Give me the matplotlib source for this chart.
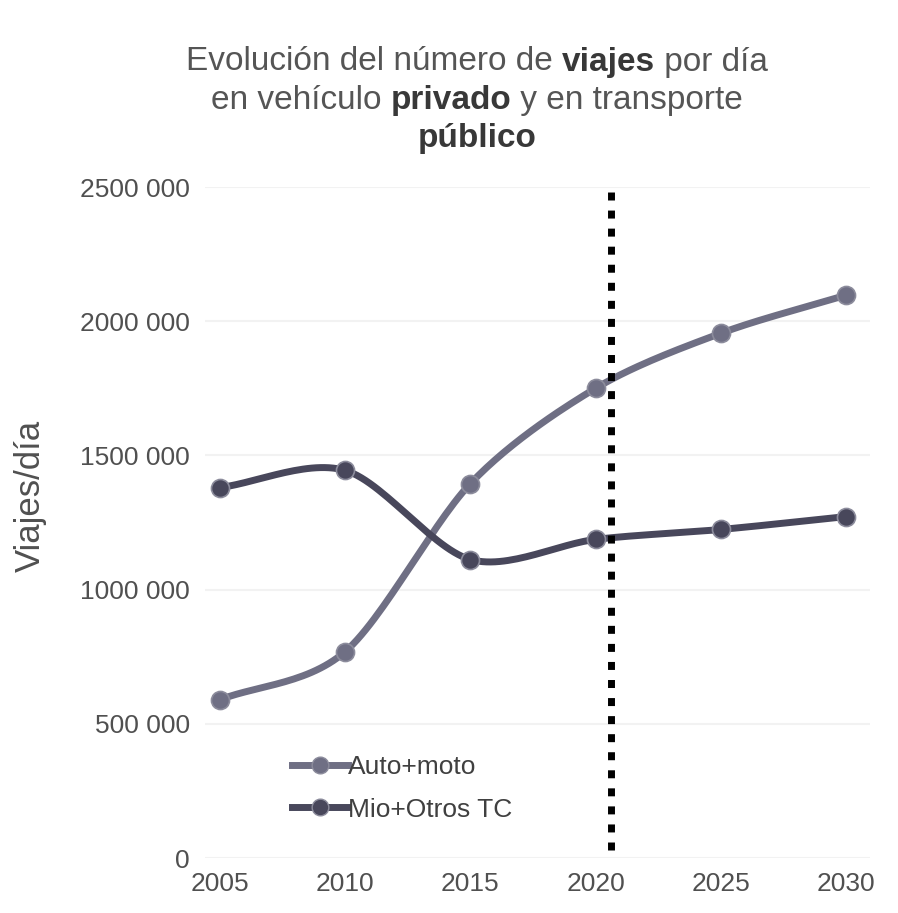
import matplotlib
matplotlib.use("Agg")
import matplotlib.pyplot as plt
import numpy as np

years = [2005, 2010, 2015, 2020, 2025, 2030]
auto_moto = [590000, 769000, 1395000, 1750000, 1955000, 2097000]
mio_otros = [1380000, 1444000, 1112000, 1187000, 1224000, 1272000]
series_names = ["Auto+moto", "Mio+Otros TC"]
y_ticks = [0, 500000, 1000000, 1500000, 2000000, 2500000]
y_tick_labels = ["0", "500 000", "1000 000", "1500 000", "2000 000", "2500 000"]
cut_year = 2020.6

title_lines = [
    [("Evolución del número de ", "normal"), ("viajes", "bold"), (" por día", "normal")],
    [("en vehículo ", "normal"), ("privado", "bold"), (" y en transporte", "normal")],
    [("público", "bold")],
]

plt.rcParams["font.family"] = ["Liberation Sans", "DejaVu Sans"]


def smooth(xs, ys, n=30, s=0.45):
    # cubic Hermite curve through the points, like Excel's smoothed line
    xs = np.asarray(xs, float)
    ys = np.asarray(ys, float)
    px = np.concatenate([[2 * xs[0] - xs[1]], xs, [2 * xs[-1] - xs[-2]]])
    py = np.concatenate([[2 * ys[0] - ys[1]], ys, [2 * ys[-1] - ys[-2]]])
    t = np.linspace(0, 1, n)
    h00 = 2 * t ** 3 - 3 * t ** 2 + 1
    h10 = t ** 3 - 2 * t ** 2 + t
    h01 = -2 * t ** 3 + 3 * t ** 2
    h11 = t ** 3 - t ** 2
    out_x, out_y = [], []
    for i in range(1, len(px) - 2):
        for arr, out in ((px, out_x), (py, out_y)):
            m1 = s * (arr[i + 1] - arr[i - 1])
            m2 = s * (arr[i + 2] - arr[i])
            out.extend(h00 * arr[i] + h10 * m1 + h01 * arr[i + 1] + h11 * m2)
    return np.array(out_x), np.array(out_y)


fig = plt.figure(figsize=(8.98, 9.13), dpi=100)
ax = fig.add_axes([205 / 898, 55 / 913, 665 / 898, 671 / 913])

colors = ["#6f6f84", "#48475b"]
for vals, name, col in zip([auto_moto, mio_otros], series_names, colors):
    sx, sy = smooth(years, vals)
    ax.plot(sx, sy, color=col, lw=5, solid_capstyle="round", zorder=3)
    ax.plot(years, vals, "o", color=col, ms=13, mec="#8c8c9c", mew=1.2, zorder=4)
    ax.plot([], [], color=col, lw=5, marker="o", ms=12, mec="#8c8c9c", label=name)

ax.plot([cut_year, cut_year], [30000, 2480000], color="black", lw=5,
        linestyle=(0, (1.15, 1.45)), dash_capstyle="butt", zorder=5)

ax.set_xlim(2004.4, 2030.96)
ax.set_ylim(0, 2500000)
ax.set_xticks(years)
ax.set_xticklabels([str(y) for y in years])
ax.set_yticks(y_ticks)
ax.set_yticklabels(y_tick_labels)
ax.tick_params(length=0, labelsize=19, labelcolor="#505050")
ax.tick_params(axis="y", pad=11)
ax.tick_params(axis="x", pad=10)
ax.grid(axis="y", color="#f2f2f2", lw=1.5)
for s in ax.spines.values():
    s.set_visible(False)

fig.text(30 / 898, 1 - 496 / 913, "Viajes/día", rotation=90, fontsize=25,
         color="#505050", ha="center", va="center")

leg = ax.legend(loc="upper left", bbox_to_anchor=(279 / 898, 1 - 742 / 913),
                bbox_transform=fig.transFigure, frameon=False,
                fontsize=19, handlelength=2.1, handletextpad=0.0,
                labelspacing=0.7, borderpad=0)
for t in leg.get_texts():
    t.set_color("#404040")

# title with bold words, built piece by piece and centred
fig.canvas.draw()
renderer = fig.canvas.get_renderer()
cx = 477
for row, parts in enumerate(title_lines):
    ypix = 62 + row * 38
    pieces = []
    total = 0
    for txt, weight in parts:
        t = fig.text(0, 0, txt, fontsize=24, fontweight=weight,
                     color="#383838" if weight == "bold" else "#555555",
                     va="center", ha="left")
        w = t.get_window_extent(renderer).width
        pieces.append((t, w))
        total += w
    x = cx - total / 2
    for t, w in pieces:
        t.set_position((x / 898, 1 - ypix / 913))
        x += w

fig.savefig("out.png", dpi=100)
